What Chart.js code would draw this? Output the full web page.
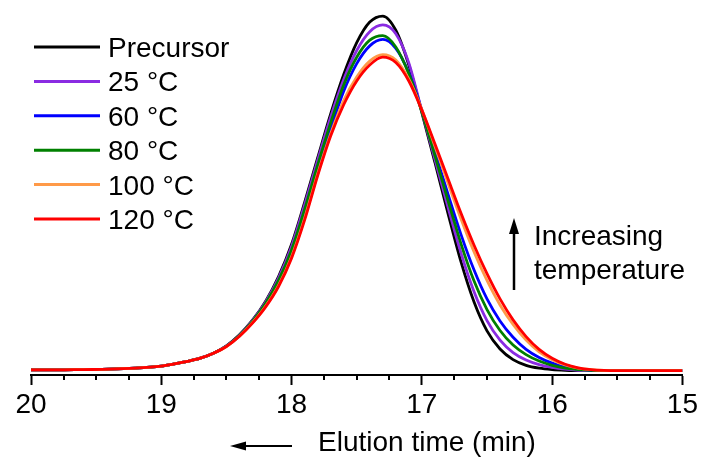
<!DOCTYPE html>
<html><head><meta charset="utf-8">
<script src="https://cdn.jsdelivr.net/npm/chart.js@4/dist/chart.umd.min.js"></script>
<style>html,body{margin:0;padding:0;background:#fff;}#wrap{width:701px;height:457px;position:relative;}</style>
</head><body><div id="wrap"><canvas id="c"></canvas></div>
<script>
// Elution time (min)
const times = [20,19.8,19.6,19.4,19.2,19.0,18.9,18.8,18.7,18.6,18.5,18.4,18.3,18.2,18.1,18.0,17.9,17.8,17.7,17.6,17.5,17.4,17.3,17.2,17.1,17.0,16.9,16.8,16.7,16.6,16.5,16.4,16.3,16.2,16.1,16.0,15.9,15.8,15.7,15.6,15.4,15.2,15.0];
// Normalised detector signal (precursor peak = 1)
const precursor = [0.003,0.003,0.004,0.005,0.008,0.014,0.020,0.027,0.036,0.050,0.071,0.102,0.143,0.196,0.266,0.357,0.475,0.600,0.724,0.835,0.925,0.983,1.000,0.960,0.862,0.728,0.588,0.445,0.308,0.195,0.113,0.062,0.032,0.016,0.008,0.004,0.002,0.001,0.001,0.001,0.001,0.001,0.001];
const t25 = [0.003,0.003,0.004,0.005,0.008,0.014,0.020,0.027,0.036,0.050,0.071,0.101,0.142,0.194,0.262,0.351,0.468,0.593,0.715,0.821,0.903,0.956,0.975,0.950,0.868,0.732,0.597,0.462,0.333,0.224,0.142,0.087,0.052,0.031,0.018,0.010,0.005,0.002,0.001,0.001,0.001,0.001,0.001];
const t60 = [0.003,0.003,0.004,0.005,0.008,0.014,0.020,0.027,0.036,0.050,0.070,0.099,0.137,0.185,0.246,0.330,0.440,0.565,0.681,0.788,0.866,0.916,0.934,0.909,0.840,0.735,0.617,0.499,0.385,0.285,0.203,0.141,0.095,0.061,0.038,0.022,0.011,0.005,0.002,0.001,0.001,0.001,0.001];
const t80 = [0.003,0.003,0.004,0.005,0.008,0.014,0.020,0.027,0.036,0.050,0.070,0.100,0.140,0.190,0.255,0.341,0.455,0.580,0.699,0.806,0.884,0.932,0.945,0.913,0.837,0.730,0.607,0.481,0.359,0.254,0.173,0.114,0.073,0.046,0.028,0.016,0.008,0.004,0.002,0.001,0.001,0.001,0.001];
const t100 = [0.003,0.003,0.004,0.005,0.008,0.014,0.020,0.027,0.036,0.050,0.069,0.098,0.136,0.182,0.241,0.322,0.430,0.555,0.668,0.762,0.828,0.873,0.891,0.876,0.822,0.737,0.634,0.530,0.429,0.336,0.255,0.186,0.131,0.087,0.054,0.032,0.017,0.008,0.004,0.002,0.001,0.001,0.001];
const t120 = [0.003,0.003,0.004,0.005,0.008,0.014,0.020,0.027,0.036,0.050,0.069,0.098,0.135,0.180,0.238,0.318,0.425,0.550,0.662,0.750,0.817,0.862,0.884,0.869,0.817,0.735,0.640,0.542,0.445,0.355,0.274,0.203,0.144,0.097,0.061,0.036,0.019,0.009,0.004,0.002,0.001,0.001,0.001];
const seriesLabels = ['Precursor','25 °C','60 °C','80 °C','100 °C','120 °C'];
const seriesColors = ['#000000','#8a2be2','#0000ff','#008000','#ff9a48','#ff0000'];
const xTickValues = [20,19,18,17,16,15];
const xTitle = 'Elution time (min)';
const noteLines = ['Increasing','temperature'];

const FONT = '"Liberation Sans", Arial, Helvetica, sans-serif';
const allSeries = [precursor,t25,t60,t80,t100,t120];
const datasets = allSeries.map((vals,i)=>({
  label: seriesLabels[i],
  data: times.map((t,j)=>({x:t,y:vals[j]})),
  borderColor: seriesColors[i],
  backgroundColor: seriesColors[i],
  borderWidth: 2.8,
  pointRadius: 0,
  fill: false,
  cubicInterpolationMode: 'monotone',
  order: allSeries.length - 1 - i
}));

const extras = {
  id:'extras',
  afterDraw(chart){
    const ctx = chart.ctx, xs = chart.scales.x;
    ctx.save();
    // minor ticks
    ctx.strokeStyle = '#000'; ctx.lineWidth = 2;
    for (let k=0;k<=20;k++){
      const t = 15 + k*0.25;
      if (Number.isInteger(t)) continue;
      const px = Math.round(xs.getPixelForValue(t));
      ctx.beginPath(); ctx.moveTo(px, xs.top); ctx.lineTo(px, xs.top+5); ctx.stroke();
    }
    // legend
    ctx.font = '28px ' + FONT; ctx.textBaseline = 'alphabetic'; ctx.textAlign = 'left';
    chart.data.datasets.forEach((ds,i)=>{
      const y = 47 + i*34.4;
      ctx.strokeStyle = ds.borderColor; ctx.lineWidth = 3;
      ctx.beginPath(); ctx.moveTo(34,y); ctx.lineTo(100,y); ctx.stroke();
      ctx.fillStyle = '#000';
      ctx.fillText(ds.label, 108, y+10);
    });
    // annotation arrow (up)
    ctx.strokeStyle = '#000'; ctx.fillStyle = '#000'; ctx.lineWidth = 2.5;
    ctx.beginPath(); ctx.moveTo(514,290); ctx.lineTo(514,230); ctx.stroke();
    ctx.beginPath(); ctx.moveTo(514,218); ctx.lineTo(509,234); ctx.lineTo(519,234); ctx.closePath(); ctx.fill();
    ctx.fillText(noteLines[0], 534, 245);
    ctx.fillText(noteLines[1], 534, 279);
    // x title and left arrow
    ctx.fillText(xTitle, 318, 451);
    ctx.lineWidth = 2;
    ctx.beginPath(); ctx.moveTo(292,446); ctx.lineTo(242,446); ctx.stroke();
    ctx.beginPath(); ctx.moveTo(230,446); ctx.lineTo(246,441.5); ctx.lineTo(246,450.5); ctx.closePath(); ctx.fill();
    ctx.restore();
  }
};

new Chart(document.getElementById('c'), {
  type:'line',
  data:{datasets},
  options:{
    responsive:true, maintainAspectRatio:false, animation:false, events:[],
    layout:{padding:{left:31,right:18,top:10,bottom:0}},
    plugins:{legend:{display:false}, tooltip:{enabled:false}},
    scales:{
      x:{type:'linear', reverse:true, min:15, max:20,
        afterBuildTicks(s){ s.ticks = xTickValues.map(v=>({value:v})); },
        afterFit(s){ s.height = 82; },
        ticks:{color:'#000', font:{family:FONT,size:28}, padding:3, maxRotation:0, autoSkip:false,
          callback:(v)=>String(v)},
        grid:{drawOnChartArea:false, drawTicks:true, tickLength:10, tickWidth:2, tickColor:'#000'},
        border:{display:true, color:'#000', width:2}
      },
      y:{display:false, min:-0.0113, max:1.017}
    }
  },
  plugins:[extras]
});
</script></body></html>
